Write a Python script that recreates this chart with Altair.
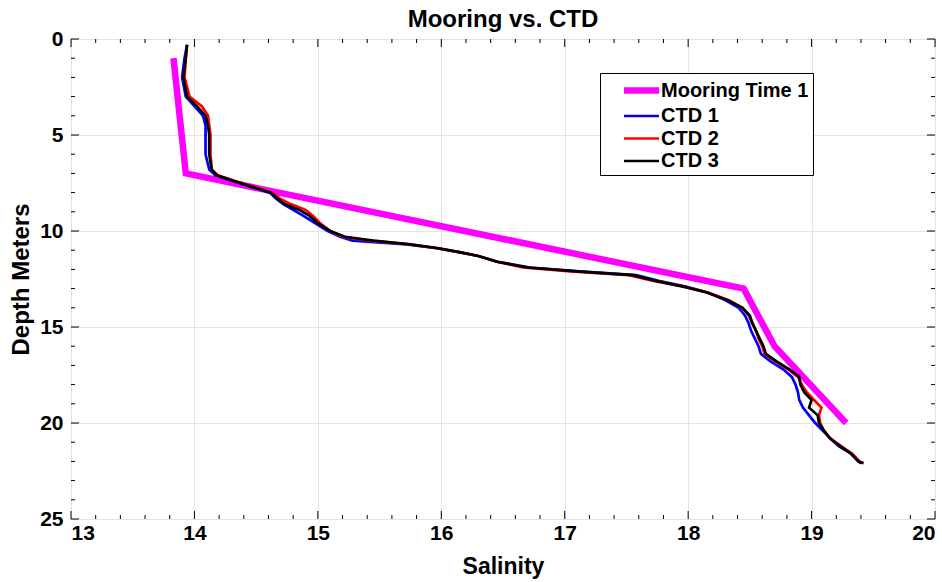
import altair as alt
import pandas as pd

# ---------------- data ----------------
depth = [0.3, 1, 2, 3, 3.5, 4, 4.5, 5, 6, 6.8, 7.1, 7.4, 7.7, 8.0, 8.3, 8.6, 8.9,
         9.2, 9.6, 10.0, 10.3, 10.5, 10.7, 10.9, 11.1, 11.3, 11.6, 11.9, 12.1, 12.3,
         12.6, 12.9, 13.2, 13.6, 14.0, 14.4, 14.8, 15.2, 15.6, 16.0, 16.4, 16.8,
         17.2, 17.6, 18.0, 18.4, 18.8, 19.2, 19.6, 20.0, 20.4, 20.8, 21.2, 21.6,
         22.0, 22.1]

ctd1_sal = [13.94, 13.92, 13.90, 13.93, 14.00, 14.07, 14.09, 14.09, 14.09, 14.12,
            14.17, 14.31, 14.46, 14.61, 14.66, 14.72, 14.80, 14.88, 14.98, 15.08,
            15.18, 15.28, 15.72, 15.96, 16.14, 16.30, 16.46, 16.72, 17.12, 17.58,
            17.76, 17.98, 18.16, 18.30, 18.41, 18.46, 18.49, 18.51, 18.54, 18.57,
            18.59, 18.67, 18.77, 18.84, 18.87, 18.89, 18.90, 18.93, 18.98, 19.03,
            19.09, 19.15, 19.22, 19.32, 19.38, 19.40]

ctd2_sal = [13.94, 13.93, 13.92, 13.96, 14.06, 14.11, 14.12, 14.13, 14.13, 14.14,
            14.19, 14.33, 14.48, 14.63, 14.69, 14.78, 14.90, 14.96, 15.02, 15.10,
            15.20, 15.42, 15.74, 15.97, 16.14, 16.30, 16.45, 16.66, 17.05, 17.52,
            17.72, 17.97, 18.16, 18.33, 18.44, 18.49, 18.52, 18.55, 18.57, 18.60,
            18.62, 18.71, 18.81, 18.89, 18.92, 18.96, 19.02, 19.08, 19.06, 19.07,
            19.10, 19.15, 19.24, 19.33, 19.39, 19.42]

ctd3_sal = [13.94, 13.93, 13.91, 13.94, 14.02, 14.09, 14.11, 14.12, 14.12, 14.14,
            14.18, 14.32, 14.47, 14.62, 14.67, 14.73, 14.85, 14.93, 15.00, 15.10,
            15.22, 15.45, 15.75, 15.98, 16.15, 16.30, 16.45, 16.70, 17.10, 17.55,
            17.74, 17.96, 18.15, 18.32, 18.44, 18.50, 18.52, 18.55, 18.58, 18.61,
            18.63, 18.72, 18.82, 18.90, 18.91, 18.94, 19.00, 18.98, 19.05, 19.06,
            19.10, 19.15, 19.23, 19.32, 19.38, 19.42]

mooring_depth = [1, 7, 13, 16, 20]
mooring_sal = [13.83, 13.93, 18.45, 18.70, 19.28]

series_names = ["Mooring Time 1", "CTD 1", "CTD 2", "CTD 3"]
series_colors = ["#ff00ff", "#0000ff", "#ff0000", "#000000"]
series_widths = [6.5, 2.7, 2.7, 2.7]

x_major = [13, 14, 15, 16, 17, 18, 19, 20]
x_minor = [round(13 + 0.2 * i, 1) for i in range(36) if i % 5 != 0]
y_major = [0, 5, 10, 15, 20, 25]
y_minor = [d for d in range(26) if d % 5 != 0]

# ---------------- tables ----------------
rows = []
for name, sal in [("CTD 1", ctd1_sal), ("CTD 2", ctd2_sal), ("CTD 3", ctd3_sal)]:
    for i, (d, s) in enumerate(zip(depth, sal)):
        rows.append({"series": name, "depth": d, "salinity": s, "idx": i})
df_ctd = pd.DataFrame(rows)
df_moor = pd.DataFrame({"series": "Mooring Time 1", "depth": mooring_depth,
                        "salinity": mooring_sal, "idx": list(range(len(mooring_depth)))})

W, H = 864, 480
FONT = "Liberation Sans"

xs = alt.Scale(domain=[13, 20], nice=False, zero=False)
ys = alt.Scale(domain=[0, 25], nice=False, zero=False, reverse=True)

x_axis = alt.Axis(values=x_major, grid=True, gridColor="#e3e3e3", gridWidth=1,
                  ticks=False, domain=False, labelFont=FONT, labelFontSize=21,
                  labelFontWeight="bold", labelColor="black", labelPadding=3,
                  format="d", title="Salinity", titleFont=FONT, titleFontSize=23,
                  titleFontWeight="bold", titleColor="black", titlePadding=12)
y_axis = alt.Axis(values=y_major, grid=True, gridColor="#e3e3e3", gridWidth=1,
                  ticks=False, domain=False, labelFont=FONT, labelFontSize=21,
                  labelFontWeight="bold", labelColor="black", labelPadding=8,
                  format="d", title="Depth Meters", titleFont=FONT, titleFontSize=24,
                  titleFontWeight="bold", titleColor="black", titlePadding=6)

X = alt.X("salinity:Q", scale=xs, axis=x_axis)
Y = alt.Y("depth:Q", scale=ys, axis=y_axis)

leg = alt.Legend(title=None, orient="none", legendX=529, legendY=34,
                 strokeColor="black", fillColor="white", padding=4,
                 symbolType="M-1.75,0H1.75", symbolSize=400, labelFont=FONT,
                 labelFontSize=20, labelFontWeight="bold", labelColor="black",
                 rowPadding=0.5, labelOffset=6, symbolOffset=24)
cscale = alt.Scale(domain=series_names, range=series_colors)
wscale = alt.Scale(type="ordinal", domain=series_names, range=series_widths)

enc = dict(
    x=X, y=Y,
    color=alt.Color("series:N", scale=cscale, legend=leg, sort=series_names),
    strokeWidth=alt.StrokeWidth("series:N", scale=wscale, legend=leg, sort=series_names),
    order=alt.Order("idx:Q"),
)
mooring = alt.Chart(df_moor).mark_line().encode(**enc)
ctd = alt.Chart(df_ctd).mark_line().encode(**enc)

def xticks(vals, size, top):
    d = pd.DataFrame({"salinity": vals})
    if top:
        return alt.Chart(d).mark_rule(color="black", strokeWidth=1).encode(
            x=X, y=alt.value(0), y2=alt.value(size))
    return alt.Chart(d).mark_rule(color="black", strokeWidth=1).encode(
        x=X, y=alt.value(H - size), y2=alt.value(H))

def yticks(vals, size, right):
    d = pd.DataFrame({"depth": vals})
    if right:
        return alt.Chart(d).mark_rule(color="black", strokeWidth=1).encode(
            y=Y, x=alt.value(W - size), x2=alt.value(W))
    return alt.Chart(d).mark_rule(color="black", strokeWidth=1).encode(
        y=Y, x=alt.value(0), x2=alt.value(size))

ticks = [xticks(x_major, 8, False), xticks(x_minor, 4, False),
         xticks(x_major, 8, True), xticks(x_minor, 4, True),
         yticks(y_major, 8, False), yticks(y_minor, 4, False),
         yticks(y_major, 8, True), yticks(y_minor, 4, True)]

chart = alt.layer(*ticks, mooring, ctd).properties(
    width=W, height=H,
    title=alt.TitleParams("Mooring vs. CTD", font=FONT, fontSize=24,
                          fontWeight="bold", color="black", offset=-4, anchor="middle"),
    autosize=alt.AutoSizeParams(type="none"),
    padding={"left": 71, "top": 39, "right": 7, "bottom": 63},
).configure_view(stroke="black", strokeWidth=1).configure(background="white")

chart.save("out.html", embed_options={"renderer": "svg", "actions": False})
